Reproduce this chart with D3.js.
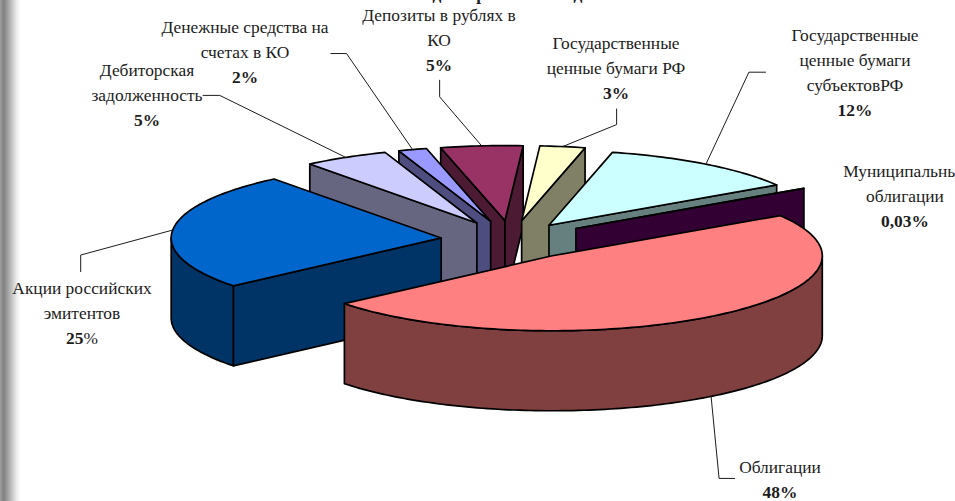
<!DOCTYPE html>
<html><head><meta charset="utf-8">
<script src="https://cdnjs.cloudflare.com/ajax/libs/d3/7.8.5/d3.min.js"></script>
<style>html,body{margin:0;padding:0;background:#fff;overflow:hidden}svg{display:block}
text{font-family:"Liberation Serif","Times New Roman",serif;font-size:17.4px;fill:#1c1c1c;text-anchor:middle}</style>
</head><body><svg id="c" width="955" height="501"></svg>
<script>
// Data
const categories = ["Облигации","Акции российских эмитентов","Дебиторская задолженность","Денежные средства на счетах в КО","Депозиты в рублях в КО","Государственные ценные бумаги РФ","Государственные ценные бумаги субъектовРФ","Муниципальные облигации"];
const values = [48,25.4,5.1,1.7,4.9,2.7,12.2,0.03];
const valueLabels = ["48%","25%","5%","2%","5%","3%","12%","0,03%"];
// Styling
const topColors  = ["#FF8080","#0066CC","#CCCCFF","#9999FF","#993366","#FFFFCC","#CCFFFF","#660066"];
const wallColors = ["#804040","#003366","#666680","#4D4D80","#4D1A33","#808066","#668080","#330033"];
const labelLines = [["Облигации"],["Акции российских","эмитентов"],["Дебиторская","задолженность"],["Денежные средства на","счетах в КО"],["Депозиты в рублях в","КО"],["Государственные","ценные бумаги РФ"],["Государственные","ценные бумаги","субъектовРФ"],["Муниципальные","облигации"]];
const labelX = [780,82,147,245,439,616,855,905];
const labelY = [473,294,76,33,21,49,41,177];
const lineGap = 25;
const explodeBy = [0.26,0.26,0.26,0.26,0.26,0.26,0.242,0.285];
const leaderBends = [[[8,82],[24,82]],[[-92,25],[-92,42]],[[-126,-62],[-143,-62]],[[-66,-96],[-82,-96]],[[-42,-49],[-42,-66]],[[54,-22],[54,-38]],[[43,-92],[60,-92]],null];

const cx=511, cy=240, rx=270, ry=75, depth=80, startDeg=57.6;
const svg=d3.select("#c");
const pie=d3.pie().sort(null).value(d=>d).startAngle(startDeg*Math.PI/180).endAngle((startDeg+360)*Math.PI/180);
const px=d3.scaleLinear().domain([0,1]).range([0,rx]);
const py=d3.scaleLinear().domain([0,1]).range([0,ry]);
const slices=pie(values).map((s,i)=>{
  const mid=(s.startAngle+s.endAngle)/2;
  return {i,a0:s.startAngle,a1:s.endAngle,mid,
    ax:cx+px(explodeBy[i]*Math.sin(mid)), ay:cy-py(explodeBy[i]*Math.cos(mid))};
});
const pt=(s,a,h=0)=>[s.ax+px(Math.sin(a)), s.ay-py(Math.cos(a))+h];
const line=d3.line();
const arcPts=(s,a0,a1,h=0)=>{const n=Math.max(2,Math.ceil((a1-a0)/0.02));return d3.range(n+1).map(k=>pt(s,a0+(a1-a0)*k/n,h));};
const sty=(sel,f)=>sel.attr("fill",f).attr("stroke","#000").attr("stroke-width",1.7).attr("stroke-linejoin","round");

// Left shadow band
const defs=svg.append("defs");
const grad=defs.append("linearGradient").attr("id","band");
[[0,"#a0a0a0"],[0.18,"#808080"],[0.5,"#b8b8b8"],[0.8,"#eeeeee"],[1,"#ffffff"]].forEach(d=>grad.append("stop").attr("offset",d[0]).attr("stop-color",d[1]));
svg.append("rect").attr("x",0).attr("y",0).attr("width",21).attr("height",501).attr("fill","url(#band)");

// Paint back to front
const order=slices.slice().sort((a,b)=>a.ay-b.ay);
const g=svg.append("g");
order.forEach(s=>{
  const apex=[s.ax,s.ay], apexB=[s.ax,s.ay+depth];
  const walls=g.append("g");
  const radial=a=>{const p=pt(s,a),q=pt(s,a,depth);
    sty(walls.append("path").attr("d",line([apex,p,q,apexB])+"Z"),wallColors[s.i]);};
  if(Math.sin(s.a0)<0) radial(s.a0);
  if(Math.sin(s.a1)>0) radial(s.a1);
  const lo=Math.max(s.a0,Math.PI/2), hi=Math.min(s.a1,1.5*Math.PI);
  if(hi>lo){
    const t=arcPts(s,lo,hi), b=arcPts(s,lo,hi,depth).reverse();
    sty(walls.append("path").attr("d",line(t.concat(b))+"Z"),wallColors[s.i]);
  }
  sty(g.append("path").attr("d",line([apex].concat(arcPts(s,s.a0,s.a1)))+"Z"),topColors[s.i]);
});

// Leader lines
slices.forEach(s=>{
  const bends=leaderBends[s.i]; if(!bends) return;
  const h=Math.cos(s.mid)<0?depth:0;
  const a=pt(s,s.mid,h);
  svg.append("path").attr("fill","none").attr("stroke","#1c1c1c").attr("stroke-width",1)
    .attr("d",line([a].concat(bends.map(b=>[a[0]+b[0],a[1]+b[1]]))));
});

// Labels
slices.forEach(s=>{
  const i=s.i, t=labelLines[i];
  t.forEach((l,k)=>svg.append("text").attr("x",labelX[i]).attr("y",labelY[i]+k*lineGap).text(l));
  const v=svg.append("text").attr("x",labelX[i]).attr("y",labelY[i]+t.length*lineGap);
  if(i===1){v.append("tspan").attr("font-weight","bold").text(valueLabels[i].replace("%",""));v.append("tspan").text("%");}
  else v.attr("font-weight","bold").text(valueLabels[i]);
});
// Title cut by the top of the frame (only descenders remain)
const titleFragments=["д","р","д"], titleX=[437,481,578];
titleFragments.forEach((f,i)=>svg.append("text").attr("x",titleX[i]).attr("y",0).attr("font-weight","bold").text(f));
</script></body></html>
